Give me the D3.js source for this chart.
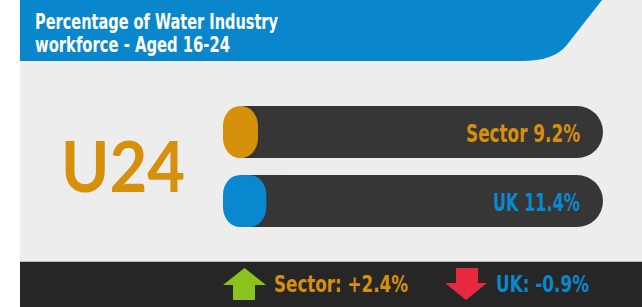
<!DOCTYPE html>
<html>
<head>
<meta charset="utf-8">
<script src="https://cdn.jsdelivr.net/npm/d3@7"></script>
<style>
  html, body { margin: 0; padding: 0; background: #fff; }
  svg { display: block; }
  .cond { font-family: "Liberation Sans Narrow", "DejaVu Sans Condensed", "Roboto", sans-serif; font-weight: bold; font-stretch: condensed; }
</style>
</head>
<body>
<svg id="chart" width="642" height="307"></svg>
<script>
// data
const categories = ['Sector', 'UK'];
const values = [9.2, 11.4];
const changes = [2.4, -0.9];
const colors = ['#d6900c', '#0a88cf'];
const titleLines = ['Percentage of Water Industry', 'workforce - Aged 16-24'];
const bigLabel = 'U24';

const svg = d3.select('#chart');
const W = 642, H = 307;

// background panel
svg.append('rect').attr('x', 20).attr('y', 0).attr('width', W - 20).attr('height', 262).attr('fill', '#ededed');

// header with slanted, curved right edge
let hd = 'M20,0 L602,0 L566,46 Q553,61 522,61 L20,61 Z';
svg.append('path').attr('d', hd).attr('fill', '#0a87cc');

const title = svg.append('text').attr('class', 'cond').attr('fill', '#fff').attr('font-size', 21);
const titleW = [243, 195];
titleLines.forEach(function(t, i) {
  title.append('tspan').attr('x', 35).attr('y', 29 + i * 23).text(t)
    .attr('textLength', titleW[i]).attr('lengthAdjust', 'spacingAndGlyphs');
});

// big label
svg.append('text').attr('x', 61).attr('y', 192)
  .attr('font-family', 'Lato, "Open Sans", sans-serif').attr('font-weight', 'bold')
  .attr('font-size', 70).attr('fill', colors[0])
  .attr('textLength', 124).attr('lengthAdjust', 'spacingAndGlyphs')
  .text(bigLabel);

// scales
const x = d3.scaleLinear().domain([0, 100]).range([223, 603]);
const y = d3.scaleBand().domain(categories).range([106, 227]).paddingInner(0.246);
const bh = y.bandwidth();

const rows = svg.append('g').selectAll('g').data(categories).join('g')
  .attr('transform', function(d) { return 'translate(0,' + y(d) + ')'; });

// track
rows.append('rect').attr('x', x(0) + 20).attr('width', x(100) - x(0) - 20).attr('height', bh)
  .attr('rx', bh / 2).attr('fill', '#363636');
rows.append('rect').attr('x', x(0) + 20).attr('width', 40).attr('height', bh).attr('fill', '#363636');
// value pill
rows.append('rect').attr('x', x(0))
  .attr('width', function(d, i) { return x(values[i]) - x(0); })
  .attr('height', bh).attr('rx', 17).attr('ry', 20)
  .attr('fill', function(d, i) { return colors[i]; });

const valW = [114, 87];
rows.append('text').attr('class', 'cond').attr('x', 580).attr('y', bh * 0.69)
  .attr('text-anchor', 'end').attr('font-size', 24)
  .attr('fill', function(d, i) { return colors[i]; })
  .attr('textLength', function(d, i) { return valW[i]; }).attr('lengthAdjust', 'spacingAndGlyphs')
  .text(function(d, i) { return d + ' ' + values[i] + '%'; });

// footer
svg.append('rect').attr('x', 20).attr('y', 261).attr('width', W - 20).attr('height', 1).attr('fill', '#b8b8b8');
svg.append('rect').attr('x', 20).attr('y', 262).attr('width', W - 20).attr('height', H - 262).attr('fill', '#262626');

const fx = d3.scalePoint().domain(categories).range([223, 445]);
const items = svg.append('g').selectAll('g').data(categories).join('g')
  .attr('transform', function(d) { return 'translate(' + fx(d) + ',268)'; });

function arrowPath(up) {
  // 43 wide, 32 tall
  if (up) return 'M21.5,0 L43,17 L32,17 L32,32 L10,32 L10,17 L0,17 Z';
  return 'M11,0 L33,0 L33,15 L42,15 L21,32 L0,15 L11,15 Z';
}
items.append('path')
  .attr('d', function(d, i) { return arrowPath(changes[i] >= 0); })
  .attr('fill', function(d, i) { return changes[i] >= 0 ? '#8bc21c' : '#e8283e'; });

const chW = [134, 93];
items.append('text').attr('class', 'cond')
  .attr('x', 51).attr('y', 24)
  .attr('font-size', 23)
  .attr('fill', function(d, i) { return colors[i]; })
  .attr('textLength', function(d, i) { return chW[i]; }).attr('lengthAdjust', 'spacingAndGlyphs')
  .text(function(d, i) {
    return d + ': ' + (changes[i] >= 0 ? '+' : '-') + Math.abs(changes[i]).toFixed(1) + '%';
  });
</script>
</body>
</html>
